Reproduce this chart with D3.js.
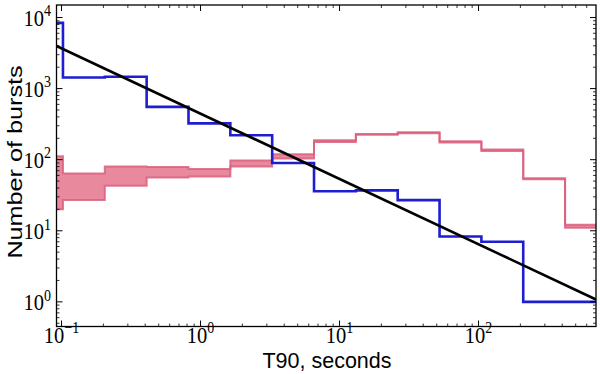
<!DOCTYPE html>
<html>
<head>
<meta charset="utf-8">
<script src="https://cdn.jsdelivr.net/npm/d3@7"></script>
<style>
  html, body { margin: 0; padding: 0; background: #fff; }
  svg { display: block; }
</style>
</head>
<body>
<svg id="chart" width="600" height="374"></svg>
<script>
// ---------------- data ----------------
// histogram bin edges (seconds), log2 spaced
const binEdges = [0.0512, 0.1024, 0.2048, 0.4096, 0.8192, 1.6384, 3.2768, 6.5536,
                  13.1072, 26.2144, 52.4288, 104.8576, 209.7152, 419.4304, 838.8608];
// blue histogram (counts per bin)
const blueCounts = [8400, 1430, 1470, 553, 324, 221, 90, 36, 37, 27, 8.3, 7.0, 1.0, 1.0];
// pink band: upper and lower envelopes per bin
const pinkUpper = [112, 64, 80, 79, 74, 97, 119, 187, 230, 243, 181, 139, 55, 12.2];
const pinkLower = [20, 27, 43, 56, 58, 80, 104, 178, 224, 236, 175, 133, 53, 11.0];
// power-law fit line endpoints
const fitX = [0.092, 700];
const fitY = [3980, 1.08];
// axis ticks
const xTicks = [0.1, 1, 10, 100];
const xTickExp = ["\u22121", "0", "1", "2"];
const yTicks = [1, 10, 100, 1000, 10000];
const yTickExp = ["0", "1", "2", "3", "4"];
const xTitle = "T90, seconds";
const yTitle = "Number of bursts";

// ---------------- layout ----------------
const svg = d3.select("#chart");
const L = 56.5, R = 596, T = 5, B = 326.5;
const x = d3.scaleLog().domain([0.092, 700]).range([L, R]);
const y = d3.scaleLog().domain([0.45, 15000]).range([B, T]);

svg.append("defs").append("clipPath").attr("id", "clip")
  .append("rect").attr("x", L).attr("y", T).attr("width", R - L).attr("height", B - T);

const plot = svg.append("g").attr("clip-path", "url(#clip)");

function stepPts(vals) {
  const pts = vals.map((v, i) => [binEdges[i], v]);
  pts.push([binEdges[vals.length], vals[vals.length - 1]]);
  return pts;
}

// pink band
const bandData = pinkUpper.map((u, i) => ({x: binEdges[i], u: u, l: pinkLower[i]}));
bandData.push({x: binEdges[pinkUpper.length], u: pinkUpper[pinkUpper.length - 1], l: pinkLower[pinkLower.length - 1]});
plot.append("path")
  .attr("d", d3.area().curve(d3.curveStepAfter)
    .x(d => x(d.x)).y0(d => y(d.l)).y1(d => y(d.u))(bandData))
  .attr("fill", "#e8899e").attr("stroke", "none");

const stepLine = d3.line().curve(d3.curveStepAfter).x(d => x(d[0])).y(d => y(d[1]));
[pinkUpper, pinkLower].forEach(s => {
  plot.append("path").attr("d", stepLine(stepPts(s)))
    .attr("fill", "none").attr("stroke", "#da5f7d").attr("stroke-width", 2)
    .attr("stroke-opacity", 0.85);
});

// blue histogram
plot.append("path").attr("d", stepLine(stepPts(blueCounts)))
  .attr("fill", "none").attr("stroke", "#1e1ed0").attr("stroke-width", 2.6)
  .attr("stroke-linejoin", "miter");

// fit line
plot.append("path")
  .attr("d", d3.line().x(d => x(d[0])).y(d => y(d[1]))(fitX.map((v, i) => [v, fitY[i]])))
  .attr("fill", "none").attr("stroke", "#000").attr("stroke-width", 2.6);

// ---------------- axes ----------------
const ax = svg.append("g");
ax.append("rect").attr("x", L).attr("y", T).attr("width", R - L).attr("height", B - T)
  .attr("fill", "none").attr("stroke", "#000").attr("stroke-width", 1.3);

const tickCol = "#000";
const xMinor = [];
[0.01, 0.1, 1, 10, 100].forEach(d => { for (let k = 2; k <= 9; k++) xMinor.push(d * k); });
const xd = x.domain();
xMinor.filter(v => v > xd[0] && v < xd[1]).forEach(v => {
  const px = x(v);
  ax.append("line").attr("x1", px).attr("x2", px).attr("y1", B).attr("y2", B - 3).attr("stroke", tickCol).attr("stroke-width", 0.8);
  ax.append("line").attr("x1", px).attr("x2", px).attr("y1", T).attr("y2", T + 3).attr("stroke", tickCol).attr("stroke-width", 0.8);
});
xTicks.forEach(v => {
  const px = x(v);
  ax.append("line").attr("x1", px).attr("x2", px).attr("y1", B).attr("y2", B - 6).attr("stroke", tickCol).attr("stroke-width", 1);
  ax.append("line").attr("x1", px).attr("x2", px).attr("y1", T).attr("y2", T + 6).attr("stroke", tickCol).attr("stroke-width", 1);
});
const yMinor = [];
[0.1, 1, 10, 100, 1000, 10000].forEach(d => { for (let k = 2; k <= 9; k++) yMinor.push(d * k); });
const yd = y.domain();
yMinor.filter(v => v > yd[0] && v < yd[1]).forEach(v => {
  const py = y(v);
  ax.append("line").attr("x1", L).attr("x2", L + 3).attr("y1", py).attr("y2", py).attr("stroke", tickCol).attr("stroke-width", 0.8);
  ax.append("line").attr("x1", R).attr("x2", R - 3).attr("y1", py).attr("y2", py).attr("stroke", tickCol).attr("stroke-width", 0.8);
});
yTicks.forEach(v => {
  const py = y(v);
  ax.append("line").attr("x1", L).attr("x2", L + 6).attr("y1", py).attr("y2", py).attr("stroke", tickCol).attr("stroke-width", 1);
  ax.append("line").attr("x1", R).attr("x2", R - 6).attr("y1", py).attr("y2", py).attr("stroke", tickCol).attr("stroke-width", 1);
});

const serif = "'Liberation Serif', 'DejaVu Serif', serif";
const sans = "'Liberation Sans', Arial, sans-serif";
const SY = 1.15; // vertical stretch of the original figure's text

function mathLabel(px, py, exp, anchor) {
  const g = svg.append("g").attr("transform", `translate(${px},${py}) scale(1,${SY})`);
  const t = g.append("text").attr("x", 0).attr("y", 0)
    .attr("text-anchor", anchor).attr("font-family", serif).attr("font-size", 20.5).attr("fill", "#000");
  t.append("tspan").text("10");
  t.append("tspan").attr("dy", -8).attr("font-size", 14).text(exp);
}
xTicks.forEach((v, i) => mathLabel(x(v), 342.5, xTickExp[i], "middle"));
yTicks.forEach((v, i) => mathLabel(51, y(v) + 8, yTickExp[i], "end"));

// titles
svg.append("text").attr("x", 327).attr("y", 367.5)
  .attr("text-anchor", "middle").attr("font-family", sans)
  .attr("font-size", 21.5).attr("fill", "#000").text(xTitle);
svg.append("g").attr("transform", `translate(22,162) rotate(-90) scale(1.2,1)`)
  .append("text").attr("text-anchor", "middle").attr("font-family", sans)
  .attr("font-size", 21).attr("fill", "#000").text(yTitle);
</script>
</body>
</html>
